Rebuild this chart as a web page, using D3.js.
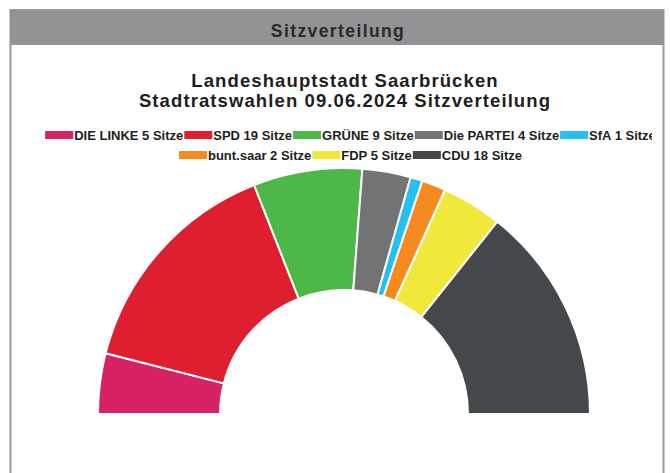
<!DOCTYPE html>
<html>
<head>
<meta charset="utf-8">
<script src="https://cdn.jsdelivr.net/npm/d3@7"></script>
<style>
  html, body { margin: 0; padding: 0; background: #ffffff; }
  svg { display: block; }
  text { font-family: "Liberation Sans", Arial, sans-serif; }
</style>
</head>
<body>
<svg id="chart" width="670" height="473"></svg>
<script>
const headerTitle = "Sitzverteilung";
const titleLines = ["Landeshauptstadt Saarbrücken", "Stadtratswahlen 09.06.2024 Sitzverteilung"];
const parties = ["DIE LINKE", "SPD", "GRÜNE", "Die PARTEI", "SfA", "bunt.saar", "FDP", "CDU"];
const seats = [5, 19, 9, 4, 1, 2, 5, 18];
const colors = ["#d62163", "#de1f30", "#4db848", "#717375", "#24c0ee", "#f58a21", "#f0e93b", "#45484a"];

const svg = d3.select("#chart");

// panel
svg.append("rect").attr("x", 10.5).attr("y", 10).attr("width", 653).attr("height", 480)
  .attr("fill", "#ffffff").attr("stroke", "#9a9a9c").attr("stroke-width", 2);
svg.append("rect").attr("x", 10).attr("y", 10).attr("width", 654).attr("height", 35)
  .attr("fill", "#939395");
svg.append("text").attr("x", 338).attr("y", 37).attr("text-anchor", "middle")
  .attr("font-size", 17.5).attr("font-weight", "bold").attr("letter-spacing", 1.4)
  .attr("fill", "#2a2a2a").text(headerTitle);

// titles
svg.selectAll("text.title").data(titleLines).join("text").attr("class", "title")
  .attr("x", 345).attr("y", (d, i) => 86.5 + i * 20.5).attr("text-anchor", "middle")
  .attr("font-size", 18.5).attr("font-weight", "bold").attr("letter-spacing", 1.1)
  .attr("fill", "#1e1e1e").text(d => d);

// legend
const legendData = parties.map((p, i) => ({ label: `${p} ${seats[i]} Sitze`, color: colors[i] }));
svg.append("clipPath").attr("id", "legclip").append("rect")
  .attr("x", 40).attr("y", 120).attr("width", 612).attr("height", 50);
const legend = svg.append("g").attr("clip-path", "url(#legclip)");
const sw = 28, maxRow = 640, fs = 13;
const items = legend.selectAll("g.item").data(legendData).join("g").attr("class", "item");
items.append("rect").attr("width", sw).attr("height", 8).attr("y", -9).attr("fill", d => d.color);
items.append("text").attr("x", sw + 1).attr("y", 0).attr("font-size", fs).attr("font-weight", "bold")
  .attr("fill", "#1e1e1e").text(d => d.label);
const widths = [];
items.each(function () { widths.push(sw + 2 + d3.select(this).select("text").node().getComputedTextLength()); });
const rows = [[]]; let rw = 0;
widths.forEach((w, i) => {
  if (rw + w > maxRow && rows[rows.length - 1].length) { rows.push([]); rw = 0; }
  rows[rows.length - 1].push(i); rw += w;
});
rows.forEach((r, ri) => {
  const total = d3.sum(r, i => widths[i]);
  let x = 351 - total / 2;
  r.forEach(i => {
    d3.select(items.nodes()[i]).attr("transform", `translate(${x},${140 + ri * 20})`);
    x += widths[i];
  });
});

// semicircle
const cx = 344, cy = 414, R = 246, r0 = 124;
const pie = d3.pie().sort(null).value(d => d).startAngle(-Math.PI / 2).endAngle(Math.PI / 2);
const arc = d3.arc().innerRadius(r0).outerRadius(R);
svg.append("g").attr("transform", `translate(${cx},${cy})`)
  .selectAll("path").data(pie(seats)).join("path")
  .attr("d", arc).attr("fill", (d, i) => colors[i])
  .attr("stroke", "#ffffff").attr("stroke-width", 2).attr("stroke-linejoin", "round");
</script>
</body>
</html>
